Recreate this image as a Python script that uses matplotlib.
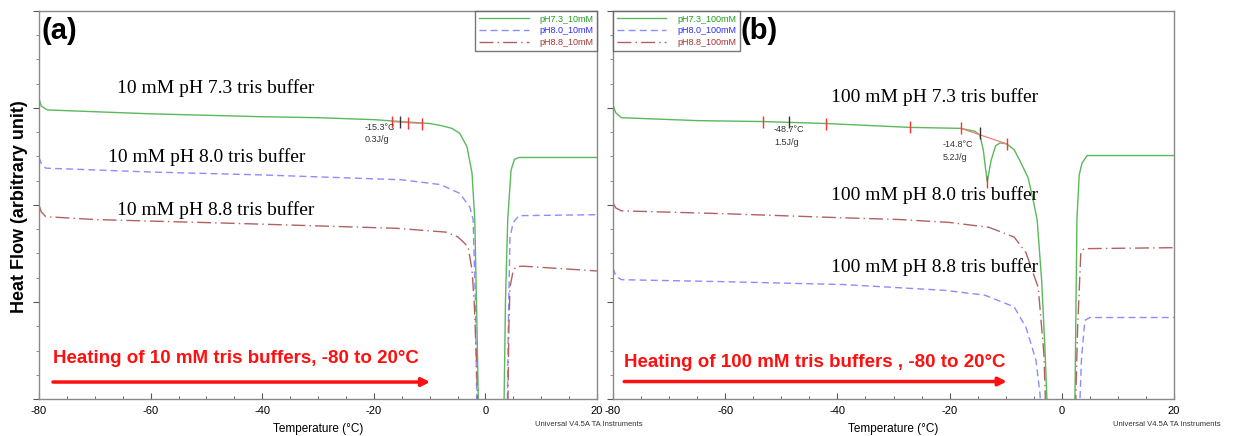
import numpy as np
import matplotlib
matplotlib.use("Agg")
from matplotlib import pyplot as plt
from matplotlib.ticker import MultipleLocator, NullFormatter

plt.rcParams["axes.unicode_minus"] = False

# Farben / Stile
GREEN = "#5cb85c"
BLUE = "#8c8cff"
RED = "#b06262"
GREEN_TXT = "#1f9e1f"
BLUE_TXT = "#2b2bff"
RED_TXT = "#a83232"
FRAME = "#8a8a8a"

# --- Panel (a): 10 mM --- Temperatur (°C) / Heat Flow (willkürliche Einheit)
a_green_T = [-80, -79.6, -78.5, -60, -40, -30, -20, -15, -10, -8, -6, -4.6, -3.3, -2.4, -1.9, -1.5, -1.2,
             3.3, 3.6, 4.0, 4.6, 5.2, 6.0, 20]
a_green_hf = [3.10, 3.02, 2.98, 2.94, 2.91, 2.90, 2.88, 2.86, 2.84, 2.82, 2.79, 2.74, 2.60, 2.33, 1.85, 0.71, -0.22,
              -0.22, 1.02, 1.85, 2.36, 2.47, 2.49, 2.49]

a_blue_T = [-80, -79.6, -78.8, -60, -40, -30, -15, -8, -4.6, -2.8, -2.2, -1.8, -1.5,
            3.9, 4.1, 4.4, 5.0, 6.0, 20]
a_blue_hf = [2.49, 2.43, 2.38, 2.34, 2.31, 2.29, 2.26, 2.21, 2.12, 1.98, 1.85, 1.02, -0.22,
             -0.22, 0.71, 1.67, 1.82, 1.89, 1.90]

a_red_T = [-80, -79.6, -78.8, -70, -44.5, -16, -7, -4.9, -3.1, -2.4, -2.0, -1.6, -1.3,
           4.0, 4.2, 4.4, 5.0, 5.5, 6.6, 20]
a_red_hf = [2.00, 1.93, 1.88, 1.85, 1.81, 1.76, 1.72, 1.67, 1.57, 1.33, 0.99, 0.40, -0.22,
            -0.22, 0.71, 1.15, 1.33, 1.36, 1.37, 1.32]

# --- Panel (b): 100 mM
b_green_T = [-80, -79.5, -78.5, -65, -53, -42, -27, -18, -15.5, -14.6, -14, -13.3, -12.6, -11.8, -11, -9.8,
             -8.5, -7.5, -6, -5.1, -4.4, -3.6, -3.0, -2.5,
             2.3, 2.7, 3.1, 3.6, 4.5, 20]
b_green_hf = [3.03, 2.95, 2.90, 2.87, 2.86, 2.84, 2.80, 2.79, 2.76, 2.72, 2.57, 2.24, 2.46, 2.61, 2.64, 2.63,
              2.57, 2.46, 2.28, 2.05, 1.85, 1.23, 0.51, -0.22,
              -0.22, 1.85, 2.31, 2.43, 2.51, 2.51]

b_blue_T = [-80, -79.5, -78.5, -60.6, -39, -20.8, -13.7, -8.5, -6.4, -4.6, -3.9, -3.6,
            3.1, 3.5, 4.1, 5.0, 20]
b_blue_hf = [1.35, 1.27, 1.23, 1.21, 1.18, 1.12, 1.07, 0.95, 0.74, 0.40, 0.06, -0.22,
             -0.22, 0.40, 0.81, 0.84, 0.84]

b_red_T = [-80, -79.5, -78.5, -60, -40, -28.8, -20, -13, -8.5, -6.4, -4.2, -3.2, -2.8,
           2.4, 2.8, 3.4, 4.0, 20]
b_red_hf = [2.02, 1.97, 1.94, 1.91, 1.87, 1.85, 1.82, 1.77, 1.67, 1.51, 1.15, 0.47, -0.22,
            -0.22, 0.71, 1.52, 1.55, 1.56]

# Auswertungs-Marken (Peak-Grenzen rot, Onset schwarz)
a_lim_T = [-16.7, -13.9, -11.4]
a_lim_hf = [2.86, 2.85, 2.84]
a_onset_T = [-15.3]
a_onset_hf = [2.86]
a_base_T = [-16.7, -11.4]
a_base_hf = [2.86, 2.84]

b_lim_T = [-53.3, -42.0, -27.1, -18.0, -9.8, -13.3]
b_lim_hf = [2.86, 2.84, 2.80, 2.79, 2.63, 2.24]
b_onset_T = [-48.6, -14.6]
b_onset_hf = [2.86, 2.74]
b_base_T = [-18.0, -9.8]
b_base_hf = [2.79, 2.63]

legend_a = ["pH7.3_10mM", "pH8.0_10mM", "pH8.8_10mM"]
legend_b = ["pH7.3_100mM", "pH8.0_100mM", "pH8.8_100mM"]
labels_a = ["10 mM pH 7.3 tris buffer", "10 mM pH 8.0 tris buffer", "10 mM pH 8.8 tris buffer"]
labels_b = ["100 mM pH 7.3 tris buffer", "100 mM pH 8.0 tris buffer", "100 mM pH 8.8 tris buffer"]

DASH = (0, (5, 3))
DASHDOT = (0, (10, 3, 1, 3))

fig = plt.figure(figsize=(12.36, 4.36), dpi=100)
ax_a = fig.add_axes([39/1236, 37/436, 558/1236, 388/436])
ax_b = fig.add_axes([613/1236, 37/436, 561/1236, 388/436])


def setup_axes(ax):
    ax.set_xlim(-80, 20)
    ax.set_ylim(0, 4)
    ax.xaxis.set_major_locator(MultipleLocator(20))
    ax.xaxis.set_minor_locator(MultipleLocator(5))
    ax.yaxis.set_major_locator(MultipleLocator(1))
    ax.yaxis.set_minor_locator(MultipleLocator(0.25))
    ax.yaxis.set_major_formatter(NullFormatter())
    ax.tick_params(axis="x", which="both", direction="in", colors="#555555", labelcolor="black",
                   labelsize=8, pad=5)
    ax.tick_params(axis="x", which="major", length=4)
    ax.tick_params(axis="x", which="minor", length=2.5)
    ax.tick_params(axis="y", which="major", direction="out", length=4, colors="#555555")
    ax.tick_params(axis="y", which="minor", direction="out", length=2, colors="#777777")
    for s in ax.spines.values():
        s.set_color(FRAME)
        s.set_linewidth(1.0)
    ax.set_xlabel("Temperature (°C)", fontsize=8.5, labelpad=5, family="Liberation Sans")
    for lab in ax.get_xticklabels():
        lab.set_family("Liberation Sans")


def draw_panel(ax, g, b, r, names, loc):
    l1, = ax.plot(g[0], g[1], color=GREEN, lw=1.0)
    l2, = ax.plot(b[0], b[1], color=BLUE, lw=1.0, linestyle=DASH)
    l3, = ax.plot(r[0], r[1], color=RED, lw=1.0, linestyle=DASHDOT)
    leg = ax.legend([l1, l2, l3], names, loc=loc, fontsize=6.5, frameon=True, fancybox=False,
                    borderaxespad=0, handlelength=5.5, labelspacing=0.3, borderpad=0.4,
                    handletextpad=1.2, prop={"family": "Liberation Sans", "size": 6.5})
    leg.get_frame().set_edgecolor("#555555")
    leg.get_frame().set_linewidth(1.0)
    for t, c in zip(leg.get_texts(), [GREEN_TXT, BLUE_TXT, RED_TXT]):
        t.set_color(c)


def draw_marks(ax, limT, limH, onT, onH, baseT, baseH):
    ax.plot(baseT, baseH, color="#f08080", lw=0.9)
    ax.plot(limT, limH, linestyle="none", marker="|", markersize=8, color="#ff3030", mew=1.0)
    ax.plot(onT, onH, linestyle="none", marker="|", markersize=8, color="#333333", mew=1.0)


setup_axes(ax_a)
setup_axes(ax_b)

draw_panel(ax_a, (a_green_T, a_green_hf), (a_blue_T, a_blue_hf), (a_red_T, a_red_hf), legend_a, "upper right")
draw_panel(ax_b, (b_green_T, b_green_hf), (b_blue_T, b_blue_hf), (b_red_T, b_red_hf), legend_b, "upper left")

draw_marks(ax_a, a_lim_T, a_lim_hf, a_onset_T, a_onset_hf, a_base_T, a_base_hf)
draw_marks(ax_b, b_lim_T, b_lim_hf, b_onset_T, b_onset_hf, b_base_T, b_base_hf)

# Beschriftungen der Auswertung
ann = dict(fontsize=6.5, color="#333333", va="top", ha="left", linespacing=1.5, family="Liberation Sans")
ax_a.text(-21.6, 2.85, "-15.3°C\n0.3J/g", **ann)
ax_b.text(-51.3, 2.82, "-48.7°C\n1.5J/g", **ann)
ax_b.text(-21.2, 2.67, "-14.8°C\n5.2J/g", **ann)

# Kurvennamen (Times-artig)
serif = dict(fontsize=14, family="Liberation Serif", ha="center", va="center")
for txt, (x, y) in zip(labels_a, [(-48.3, 3.21), (-50.0, 2.49), (-48.3, 1.95)]):
    ax_a.text(x, y, txt, **serif)
for txt, (x, y) in zip(labels_b, [(-22.7, 3.11), (-22.7, 2.10), (-22.7, 1.36)]):
    ax_b.text(x, y, txt, **serif)

# Panel-Buchstaben
ax_a.text(0.005, 0.985, "(a)", transform=ax_a.transAxes, fontsize=21, fontweight="bold",
          ha="left", va="top", family="Liberation Sans")
ax_b.text(0.228, 0.985, "(b)", transform=ax_b.transAxes, fontsize=21, fontweight="bold",
          ha="left", va="top", family="Liberation Sans")

# Heiz-Pfeile
ax_a.text(-77.5, 0.42, "Heating of 10 mM tris buffers, -80 to 20°C", color="#ff1010", fontsize=13.5,
          fontweight="bold", family="Liberation Sans", ha="left", va="center")
ax_a.annotate("", xy=(-9.9, 0.175), xytext=(-77.5, 0.175),
              arrowprops=dict(arrowstyle="-|>", color="#ff1010", lw=2.5, mutation_scale=12, shrinkA=0, shrinkB=0))
ax_b.text(-78.0, 0.38, "Heating of 100 mM tris buffers , -80 to 20°C", color="#ff1010", fontsize=13.5,
          fontweight="bold", family="Liberation Sans", ha="left", va="center")
ax_b.annotate("", xy=(-9.8, 0.18), xytext=(-78.0, 0.18),
              arrowprops=dict(arrowstyle="-|>", color="#ff1010", lw=2.5, mutation_scale=12, shrinkA=0, shrinkB=0))

fig.text(20/1236, 1 - 207/436, "Heat Flow (arbitrary unit)", rotation=90, fontsize=13, fontweight="bold",
         family="Liberation Sans", ha="center", va="center")
fig.text(535/1236, 1 - 424/436, "Universal V4.5A TA Instruments", fontsize=5.5, color="#333333",
         ha="left", va="center", family="Liberation Sans")
fig.text(1113/1236, 1 - 424/436, "Universal V4.5A TA Instruments", fontsize=5.5, color="#333333",
         ha="left", va="center", family="Liberation Sans")

fig.savefig("out.png", dpi=100)
